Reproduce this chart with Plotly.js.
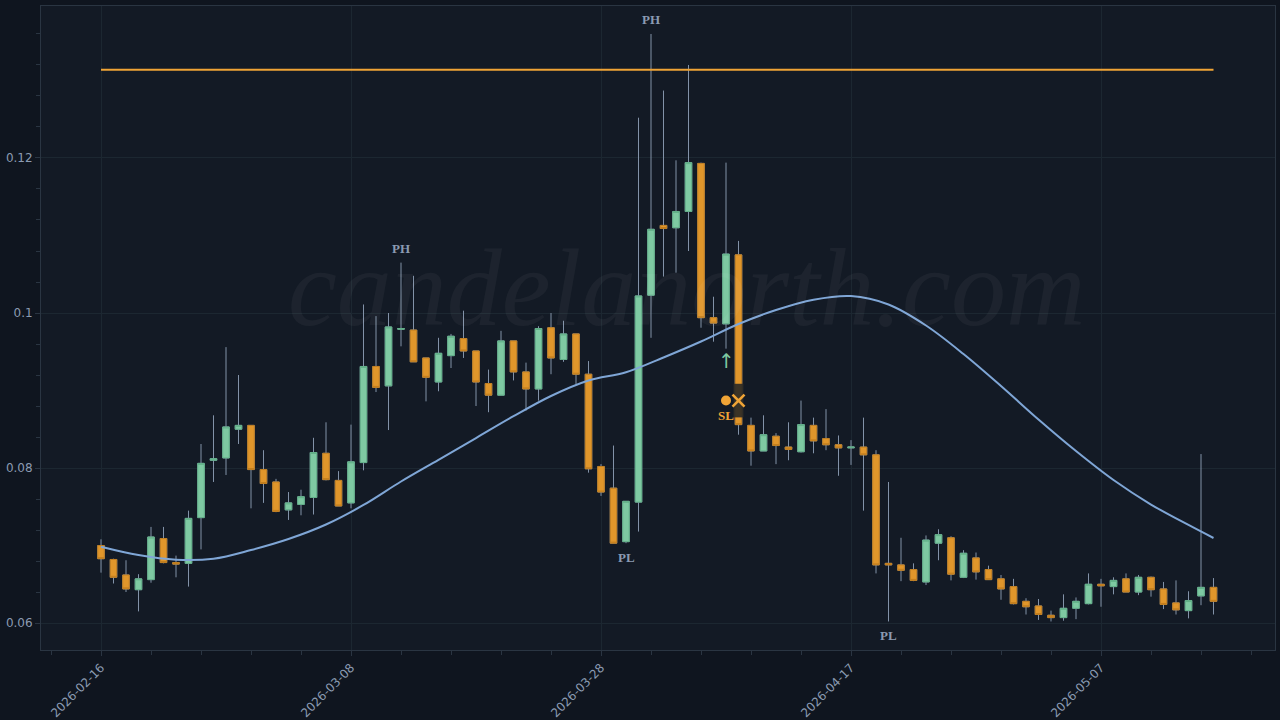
<!DOCTYPE html>
<html>
<head>
<meta charset="utf-8">
<script src="https://cdn.plot.ly/plotly-3.0.1.min.js"></script>
<style>
html,body{margin:0;padding:0;background:#0f151f;}
#chart{width:1280px;height:720px;}
</style>
</head>
<body>
<div id="chart"></div>
<script>
const dates = [
'2026-02-16','2026-02-17','2026-02-18','2026-02-19','2026-02-20','2026-02-21','2026-02-22','2026-02-23','2026-02-24','2026-02-25','2026-02-26','2026-02-27','2026-02-28',
'2026-03-01','2026-03-02','2026-03-03','2026-03-04','2026-03-05','2026-03-06','2026-03-07','2026-03-08','2026-03-09','2026-03-10','2026-03-11','2026-03-12','2026-03-13','2026-03-14','2026-03-15','2026-03-16','2026-03-17','2026-03-18','2026-03-19','2026-03-20','2026-03-21','2026-03-22','2026-03-23','2026-03-24','2026-03-25','2026-03-26','2026-03-27','2026-03-28','2026-03-29','2026-03-30','2026-03-31',
'2026-04-01','2026-04-02','2026-04-03','2026-04-04','2026-04-05','2026-04-06','2026-04-07','2026-04-08','2026-04-09','2026-04-10','2026-04-11','2026-04-12','2026-04-13','2026-04-14','2026-04-15','2026-04-16','2026-04-17','2026-04-18','2026-04-19','2026-04-20','2026-04-21','2026-04-22','2026-04-23','2026-04-24','2026-04-25','2026-04-26','2026-04-27','2026-04-28','2026-04-29','2026-04-30',
'2026-05-01','2026-05-02','2026-05-03','2026-05-04','2026-05-05','2026-05-06','2026-05-07','2026-05-08','2026-05-09','2026-05-10','2026-05-11','2026-05-12','2026-05-13','2026-05-14','2026-05-15','2026-05-16'
];
const open = [
0.0700,0.0682,0.0662,0.0643,0.0656,0.0709,0.0678,0.0677,0.0736,0.0810,
0.0813,0.0850,0.0855,0.0798,0.0782,0.0746,0.0753,0.0762,0.0819,0.0784,
0.0755,0.0807,0.0931,0.0906,0.0979,0.0978,0.0942,0.0911,0.0945,0.0967,
0.0951,0.0909,0.0894,0.0964,0.0924,0.0902,0.0981,0.0940,0.0973,0.0921,
0.0802,0.0774,0.0705,0.0756,0.1023,0.1113,0.1110,0.1131,0.1193,0.0994,
0.0986,0.1075,0.0855,0.0822,0.0841,0.0827,0.0821,0.0855,0.0838,0.0830,
0.0826,0.0827,0.0817,0.0677,0.0675,0.0669,0.0653,0.0703,0.0710,0.0659,
0.0684,0.0669,0.0657,0.0647,0.0628,0.0622,0.0610,0.0607,0.0619,0.0625,
0.0650,0.0647,0.0657,0.0640,0.0659,0.0644,0.0626,0.0616,0.0635,0.0646
];
const high = [
0.0708,0.0683,0.0681,0.0663,0.0724,0.0724,0.0687,0.0745,0.0831,0.0868,
0.0956,0.0920,0.0855,0.0823,0.0786,0.0769,0.0772,0.0839,0.0859,0.0796,
0.0856,0.1011,0.0996,0.1000,0.1065,0.1048,0.0942,0.0968,0.0973,0.1003,
0.0951,0.0927,0.0977,0.0964,0.0936,0.0983,0.1000,0.0990,0.0973,0.0938,
0.0805,0.0829,0.0757,0.1252,0.1360,0.1287,0.1197,0.1320,0.1194,0.1021,
0.1194,0.1093,0.0865,0.0868,0.0845,0.0859,0.0887,0.0865,0.0876,0.0842,
0.0836,0.0865,0.0823,0.0782,0.0710,0.0677,0.0713,0.0721,0.0712,0.0694,
0.0691,0.0674,0.0662,0.0657,0.0632,0.0631,0.0616,0.0637,0.0633,0.0664,
0.0657,0.0659,0.0664,0.0662,0.0660,0.0653,0.0655,0.0641,0.0818,0.0658
];
const low = [
0.0665,0.0651,0.0640,0.0615,0.0652,0.0677,0.0659,0.0647,0.0695,0.0782,
0.0791,0.0831,0.0748,0.0755,0.0743,0.0733,0.0739,0.0740,0.0784,0.0751,
0.0748,0.0797,0.0898,0.0849,0.0957,0.0937,0.0886,0.0899,0.0929,0.0942,
0.0880,0.0872,0.0894,0.0913,0.0874,0.0887,0.0921,0.0937,0.0908,0.0794,
0.0764,0.0703,0.0703,0.0718,0.0968,0.1047,0.1052,0.1080,0.0981,0.0963,
0.0954,0.0843,0.0803,0.0822,0.0805,0.0810,0.0820,0.0819,0.0823,0.0790,
0.0804,0.0745,0.0664,0.0602,0.0654,0.0654,0.0649,0.0681,0.0655,0.0658,
0.0656,0.0656,0.0630,0.0624,0.0611,0.0604,0.0602,0.0603,0.0605,0.0624,
0.0621,0.0637,0.0640,0.0636,0.0634,0.0618,0.0611,0.0606,0.0623,0.0611
];
const close = [
0.0683,0.0659,0.0644,0.0657,0.0711,0.0678,0.0676,0.0735,0.0806,0.0812,
0.0853,0.0855,0.0798,0.0780,0.0744,0.0755,0.0763,0.0820,0.0785,0.0751,
0.0808,0.0931,0.0904,0.0982,0.0980,0.0937,0.0917,0.0948,0.0970,0.0951,
0.0911,0.0894,0.0964,0.0924,0.0902,0.0980,0.0942,0.0973,0.0921,0.0799,
0.0769,0.0703,0.0757,0.1022,0.1108,0.1109,0.1131,0.1194,0.0994,0.0987,
0.1076,0.0856,0.0822,0.0843,0.0829,0.0824,0.0856,0.0835,0.0830,0.0826,
0.0827,0.0817,0.0675,0.0675,0.0668,0.0655,0.0707,0.0714,0.0663,0.0690,
0.0666,0.0656,0.0644,0.0625,0.0621,0.0611,0.0607,0.0619,0.0628,0.0650,
0.0648,0.0655,0.0640,0.0659,0.0643,0.0624,0.0617,0.0629,0.0646,0.0628
];

// smooth moving-average line, read every 3 days
const maDates = ['2026-02-16','2026-02-19','2026-02-22','2026-02-25','2026-02-28','2026-03-03','2026-03-06','2026-03-09','2026-03-12','2026-03-15','2026-03-18','2026-03-21','2026-03-24','2026-03-27','2026-03-30','2026-04-02','2026-04-05','2026-04-08','2026-04-11','2026-04-14','2026-04-17','2026-04-20','2026-04-23','2026-04-26','2026-04-29','2026-05-02','2026-05-05','2026-05-08','2026-05-11','2026-05-14','2026-05-16'];
const maValues = [0.06985,0.06877,0.06817,0.06830,0.06942,0.07084,0.07271,0.07523,0.07826,0.08106,0.08387,0.08668,0.08929,0.09129,0.09235,0.09426,0.09632,0.09858,0.10039,0.10172,0.10219,0.10110,0.09839,0.09471,0.09058,0.08626,0.08219,0.07845,0.07529,0.07265,0.07097];

const resistanceLevel = 0.1314;

const pivotDates  = ['2026-03-12','2026-04-01','2026-03-30','2026-04-20'];
const pivotLabels = ['PH','PH','PL','PL'];

const entryDate = '2026-04-07';
const entryArrowPrice = 0.0938;
const entryPrice = 0.0887;
const exitDate = '2026-04-08';
const exitPrice = 0.0887;

const GREEN = '#7ec9a2', GREEN_LINE = '#62b088';
const ORANGE = '#e0962b', ORANGE_LINE = '#c27e1e';
const WICK = '#8292a8';
const TXT = '#8b9bb2';

const bodyHigh = open.map((o,i)=>Math.max(o, close[i]));
const bodyLow  = open.map((o,i)=>Math.min(o, close[i]));

const traces = [
  { type:'candlestick', x:dates, open:open, high:high, low:low, close:close,
    increasing:{line:{color:WICK,width:1}, fillcolor:'rgba(0,0,0,0)'},
    decreasing:{line:{color:WICK,width:1}, fillcolor:'rgba(0,0,0,0)'},
    whiskerwidth:0, showlegend:false, hoverinfo:'skip' },
  { type:'candlestick', x:dates, open:open, high:bodyHigh, low:bodyLow, close:close,
    increasing:{line:{color:GREEN_LINE,width:1}, fillcolor:GREEN},
    decreasing:{line:{color:ORANGE_LINE,width:1}, fillcolor:ORANGE},
    whiskerwidth:0, showlegend:false },
  { type:'scatter', mode:'lines', x:maDates, y:maValues,
    line:{color:'#7fa6d6', width:2, shape:'spline', smoothing:1.0}, showlegend:false, hoverinfo:'skip' },
  { type:'scatter', mode:'lines', x:[dates[0], dates[dates.length-1]], y:[resistanceLevel, resistanceLevel],
    line:{color:'#f0a436', width:2}, showlegend:false },
  { type:'scatter', mode:'markers', x:[entryDate], y:[entryPrice],
    marker:{symbol:'circle', size:10, color:'#f0a436'}, showlegend:false },
  // dark backing block behind the exit cross
  { type:'scatter', mode:'markers', x:[exitDate], y:[exitPrice],
    marker:{symbol:'line-ns', size:24, color:'rgba(45,42,38,0.92)', line:{color:'rgba(45,42,38,0.92)', width:10}}, showlegend:false },
  { type:'scatter', mode:'markers', x:[exitDate], y:[exitPrice],
    marker:{symbol:'x-thin', size:12, color:'#f0a436', line:{color:'#f0a436', width:2.6}}, showlegend:false }
];

const annotations = [];
pivotDates.forEach((d,k)=>{
  const i = dates.indexOf(d);
  const isHigh = pivotLabels[k]==='PH';
  annotations.push({
    x:d, y:isHigh?high[i]:low[i], xref:'x', yref:'y',
    text:'<b>'+pivotLabels[k]+'</b>', showarrow:false,
    yanchor:isHigh?'bottom':'top', yshift:isHigh?5:-5,
    font:{family:'Liberation Serif', size:13, color:TXT}
  });
});
annotations.push({ x:entryDate, y:entryArrowPrice, xref:'x', yref:'y', text:'↑', showarrow:false,
  font:{family:'DejaVu Sans', size:20, color:GREEN} });
annotations.push({ x:entryDate, y:entryPrice, xref:'x', yref:'y', text:'<b>SL</b>', showarrow:false,
  yanchor:'top', yshift:-5, font:{family:'Liberation Serif', size:13, color:'#f0a436'} });
annotations.push({ x:0.523, y:0.562, xref:'paper', yref:'paper', text:'candelanorth.com', showarrow:false,
  font:{family:'Liberation Serif', size:110, style:'italic', color:'rgba(255,255,255,0.045)'} });

const DAY = 86400000;
const layout = {
  width:1280, height:720,
  paper_bgcolor:'#0f151f', plot_bgcolor:'#131a25',
  margin:{l:41, r:5, t:6, b:70},
  font:{family:'DejaVu Sans', color:TXT, size:12},
  showlegend:false,
  boxgap:0.25,
  xaxis:{
    type:'date', range:['2026-02-11 04:48','2026-05-20 22:05'],
    rangeslider:{visible:false},
    tick0:'2026-02-16', dtick:20*DAY, tickformat:'%Y-%m-%d', tickangle:-45,
    ticks:'outside', ticklen:5, tickcolor:'#2a3542',
    showgrid:true, gridcolor:'#1c2731', gridwidth:1,
    showline:true, linecolor:'#2a3542', mirror:true, zeroline:false,
    tickfont:{size:12, color:TXT},
    minor:{tick0:'2026-02-16', dtick:4*DAY, ticks:'outside', ticklen:4, tickcolor:'#2a3542', showgrid:false}
  },
  yaxis:{
    range:[0.05652, 0.13961], tick0:0, dtick:0.02,
    ticks:'outside', ticklen:5, tickcolor:'#2a3542',
    showgrid:true, gridcolor:'#1c2731', gridwidth:1,
    showline:true, linecolor:'#2a3542', mirror:true, zeroline:false,
    tickfont:{size:12, color:TXT},
    minor:{dtick:0.004, ticks:'outside', ticklen:4, tickcolor:'#2a3542', showgrid:false}
  },
  annotations:annotations
};

Plotly.newPlot('chart', traces, layout, {displayModeBar:false, staticPlot:true});
</script>
</body>
</html>
